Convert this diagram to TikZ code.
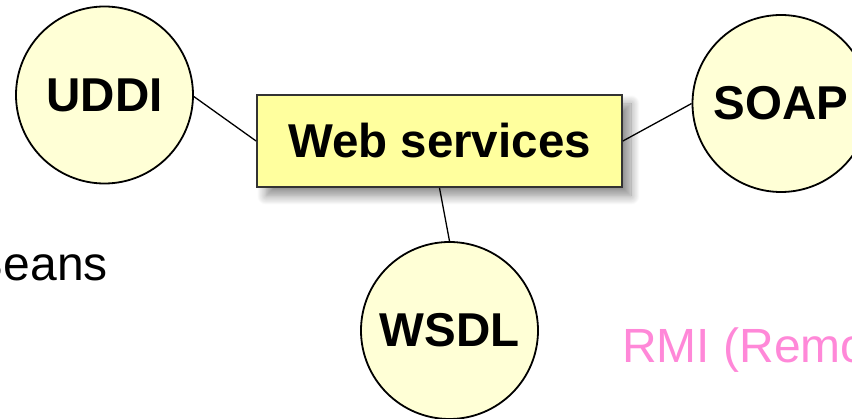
\documentclass[tikz,border=0pt]{standalone}
\usepackage{fontspec}
\setmainfont{Liberation Sans}
\usetikzlibrary{shadows.blur}
\definecolor{topicfill}{HTML}{FFFFD6}
\definecolor{hubfill}{HTML}{FFFF9E}
\definecolor{rmipink}{HTML}{FF88D8}
\tikzset{
  topic/.style={circle, draw=black, line width=1.8pt, fill=topicfill,
    minimum size=177pt, inner sep=0pt,
    font=\fontsize{47.5}{52}\selectfont\bfseries},
  hub/.style={rectangle, draw=black!80, line width=1.8pt, fill=hubfill,
    minimum width=365pt, minimum height=92pt, inner sep=0pt,
    font=\fontsize{47.5}{52}\selectfont\bfseries,
    blur shadow={shadow xshift=9pt, shadow yshift=-9pt,
      shadow blur radius=9pt, shadow blur steps=12, shadow opacity=45}},
  link/.style={draw=black, line width=1.3pt},
  plaintext/.style={inner sep=0pt, font=\fontsize{48}{52}\selectfont}
}
\begin{document}
\begin{tikzpicture}[x=1pt, y=-1pt]
  \useasboundingbox (0,0) rectangle (852,419);
  \clip (0,0) rectangle (852,419);

  % side captions, running past the frame
  \node[plaintext, anchor=base east] (beans) at (108,281) {Beans};
  \node[plaintext, anchor=base west, text=rmipink] (rmi) at (622,363) {RMI (Remote};

  % central box and the three related topics
  \node[hub] (ws) at (439.5,141) {Web services};
  \node[topic] (uddi) at (104.5,95) {UDDI};
  \node[topic] (soap) at (781,103.5) {SOAP};
  \node[topic] (wsdl) at (449.5,330.5) {WSDL};

  % connectors
  \draw[link] (uddi.-1) -- (ws.west);
  \draw[link] (ws.east) -- (soap.west);
  \draw[link] (ws.south) -- (wsdl.north);
\end{tikzpicture}
\end{document}
